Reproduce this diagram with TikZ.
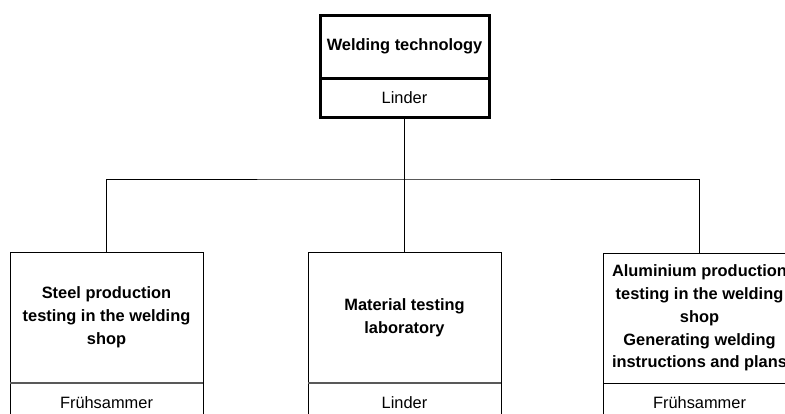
\documentclass[tikz,border=0pt]{standalone}
\usepackage{fontspec}
\setmainfont{Liberation Sans}
\usetikzlibrary{positioning}

\tikzset{
  unit/.style={draw, line width=1pt, outer sep=0pt, inner sep=0pt, align=center,
    minimum width=193, font=\bfseries\fontsize{16.4}{22.8}\selectfont},
  unitname/.style={draw, line width=1pt, outer sep=0pt, inner sep=0pt,
    minimum width=193, minimum height=39, font=\fontsize{16.4}{22.8}\selectfont},
  divider/.style={draw=black!65, line width=1.6pt},
  link/.style={draw, line width=0.9pt}
}

\begin{document}
\begin{tikzpicture}[x=1pt,y=-1pt]
      \useasboundingbox (0,0) rectangle (785,413);
      \clip (0,0) rectangle (785,413);
      %(head)
      \node[unit, line width=3pt, minimum width=169, minimum height=63] (weld) at (404.5,46.5) {Welding technology};
      \node[unitname, line width=3pt, minimum width=169, below=0pt of weld] (weldname) {Linder};
      %(1)
      \node[unit, minimum height=131] (steel) at (106.5,317.5) {Steel production\\testing in the welding\\shop};
      \node[unitname, below=0pt of steel] (steelname) {Frühsammer};
      %(2)
      \node[unit, minimum height=131] (lab) at (404.5,317.5) {Material testing\\laboratory};
      \node[unitname, below=0pt of lab] (labname) {Linder};
      %(3)
      \node[unit, minimum height=130] (alu) at (699.5,318) {Aluminium production\\testing in the welding\\shop\\Generating welding\\instructions and plans};
      \node[unitname, below=0pt of alu] (aluname) {Frühsammer};
      % dividers
      \path[divider] (steel.south west) -- (steel.south east);
      \path[divider] (lab.south west) -- (lab.south east);
      \draw[line width=1pt] (alu.south west) -- (alu.south east);
      % links
      \coordinate (bus) at (404.5,179);
      \path[link] (weldname.south) -- (bus);
      \path[link] (steel.north) |- (bus) -| (alu.north);
      \path[link] (bus) -- (lab.north);
\end{tikzpicture}
\end{document}
